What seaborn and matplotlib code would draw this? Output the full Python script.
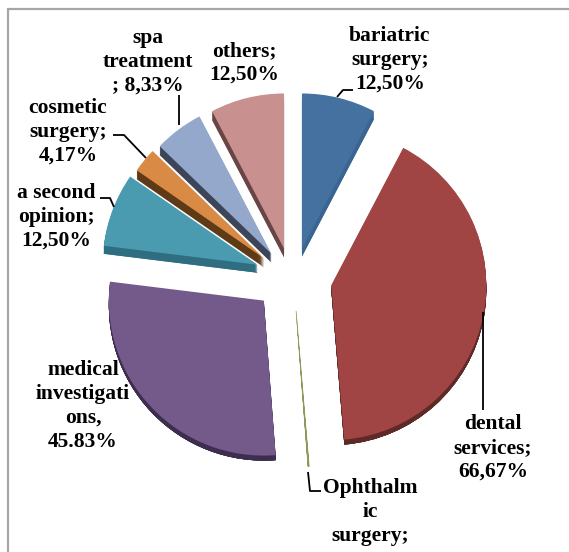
import matplotlib
matplotlib.use("Agg")
import matplotlib.pyplot as plt
import seaborn as sns

categories = ["bariatric surgery", "dental services", "Ophthalmic surgery", "medical investigations",
              "a second opinion", "cosmetic surgery", "spa treatment", "others"]
values = [12.50, 66.67, 0.2, 45.83, 12.50, 4.17, 8.33, 12.50]
label_texts = ["bariatric\nsurgery;\n12,50%", "dental\nservices;\n66,67%", "Ophthalm\nic\nsurgery;",
               "medical\ninvestigati\nons,\n45.83%", "a second\nopinion;\n12,50%",
               "cosmetic\nsurgery;\n4,17%", "spa\ntreatment\n; 8,33%", "others;\n12,50%"]
top_colors = ["#44719f", "#a04544", "#8a9a5b", "#735a8a", "#4a9bb0", "#d98a45", "#94a8cc", "#c99090"]
side_colors = ["#3a6590", "#5e2a28", "#8a9a5b", "#3d2e50", "#2f6d80", "#5e3a17", "#3d4658", "#6a4545"]
gaps = [37.6, 36, 26, 32, 40, 41, 41, 37.6]
nudge_x = [0, 3, 1, -6, 2, 3, 3, 0]
nudge_y = [0, -7, 0, -6.5, -6, -0.5, 1.5, 0]
depths = [8, 5, 1, 5, 8, 9, 9, 9]

W, H = 569, 552
R = 155
CX, CY = 293, 285
label_xy = [(390, 60), (493, 448), (370, 512), (83, 406), (56, 217), (68, 132), (148, 62), (244, 63)]
leaders = [[(337, 97), (343, 90), (353, 90)],
           [(483, 312), (483, 410)],
           [(308, 472), (310, 491), (321, 491)],
           [(100, 198), (110, 198), (114, 207)],
           [(113, 135), (124, 135), (146, 158)],
           [(179, 125), (179, 95)]]

sns.set_theme(style="white")
plt.rcParams["font.family"] = ["Liberation Serif", "DejaVu Serif"]
fig = plt.figure(figsize=(W / 100, H / 100), dpi=100, facecolor="white")
ax = fig.add_axes([0, 0, 1, 1])


def flip(y):
    return H - y


def draw_layer(colors, layer):
    wedges, _ = ax.pie(values, explode=gaps, colors=colors, startangle=90, counterclock=False,
                       radius=R, center=(CX, flip(CY)), frame=True, wedgeprops={"linewidth": 0})
    for w, dx, dy, d in zip(wedges, nudge_x, nudge_y, depths):
        cx, cy = w.center
        w.set_center((cx + dx, cy - dy - min(layer, d)))
    return wedges


# extruded side of every slice, then the top face
for k in range(max(depths), 0, -1):
    draw_layer(side_colors, k)
wedges = draw_layer(top_colors, 0)
wedges[2].set_edgecolor(top_colors[2])
wedges[2].set_linewidth(0.5)

ax.set_xlim(0, W)
ax.set_ylim(0, H)
ax.set_aspect("auto")
ax.axis("off")

for txt, (x, y) in zip(label_texts, label_xy):
    ax.text(x, flip(y), txt, ha="center", va="center", fontsize=15.5, fontweight="bold",
            color="black", linespacing=1.27)
for pts in leaders:
    ax.plot([p[0] for p in pts], [flip(p[1]) for p in pts], color="black", lw=1.3, solid_capstyle="butt")

# outer frame of the pasted chart
ax.plot([8, 8, W], [0, flip(9), flip(9)], color="#a6a6a6", lw=1.6, solid_joinstyle="miter")

fig.savefig("out.png", dpi=100, facecolor="white")
